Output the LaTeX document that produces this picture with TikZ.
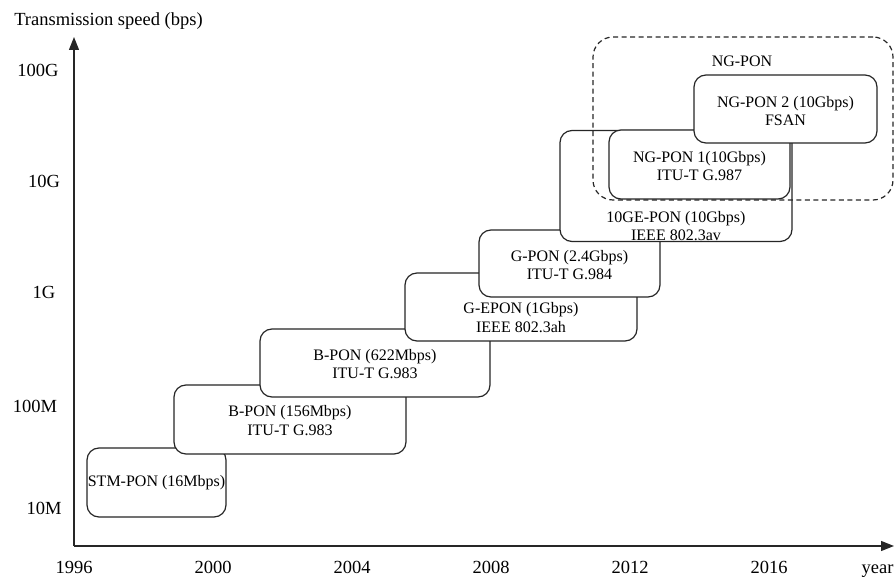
\documentclass[tikz,border=0pt]{standalone}
\usepackage{fontspec}
\setmainfont{Liberation Serif}
\usetikzlibrary{arrows.meta}
\begin{document}
\begin{tikzpicture}[x=1pt,y=-1pt,
  axis/.style={line width=1.4pt, draw=black!85, -{Triangle[length=13pt,width=10pt]}},
  pbox/.style={draw=black!85, line width=1.2pt, fill=white, rounded corners=12pt, inner sep=0pt},
  ptext/.style={font=\fontsize{16}{18.5}\selectfont, align=center, inner sep=0pt},
  ticklabel/.style={font=\fontsize{18.5}{20}\selectfont, inner sep=0pt, anchor=base},
  ngbox/.style={draw=black!85, line width=1.2pt, dash pattern=on 5pt off 3.5pt, rounded corners=20pt, inner sep=0pt}]
\useasboundingbox (0,0) rectangle (895,577);

% axes
\coordinate (o) at (74,546);
\coordinate (ytop) at (74,37);
\coordinate (xend) at (894,546);
\draw[axis] (o) -- (ytop);
\draw[axis] (o) -- (xend);
\node[ticklabel] (ytitle) at (108.5,26) {Transmission speed (bps)};
\node[ticklabel] (xtitle) at (877.5,573) {year};

% speed labels
\node[ticklabel] (s100G) at (38,77) {100G};
\node[ticklabel] (s10G) at (44,188) {10G};
\node[ticklabel] (s1G) at (44,299) {1G};
\node[ticklabel] (s100M) at (35,413) {100M};
\node[ticklabel] (s10M) at (44,514) {10M};

% year labels
\node[ticklabel] (y1996) at (74,573) {1996};
\node[ticklabel] (y2000) at (213,573) {2000};
\node[ticklabel] (y2004) at (352,573) {2004};
\node[ticklabel] (y2008) at (491,573) {2008};
\node[ticklabel] (y2012) at (630,573) {2012};
\node[ticklabel] (y2016) at (769,573) {2016};

% PON generations, later ones drawn on top
\node[pbox, minimum width=139pt, minimum height=69pt] (stm) at (156.5,482.5) {};
\node[ptext] at (156.5,483) {STM-PON (16Mbps)};

\node[pbox, minimum width=232pt, minimum height=69pt] (bpon1) at (290,419.5) {};
\node[ptext] at (290,420.5) {B-PON (156Mbps)\\ITU-T G.983};

\node[pbox, minimum width=230pt, minimum height=68pt] (bpon2) at (375,363) {};
\node[ptext] at (375,364) {B-PON (622Mbps)\\ITU-T G.983};

\node[pbox, minimum width=232pt, minimum height=68pt] (gepon) at (521,307) {};
\node[ptext] at (521,317.5) {G-EPON (1Gbps)\\IEEE 802.3ah};

\node[pbox, minimum width=181pt, minimum height=67pt] (gpon) at (569.5,263.5) {};
\node[ptext] at (569.5,265) {G-PON (2.4Gbps)\\ITU-T G.984};

\node[pbox, minimum width=232pt, minimum height=111pt] (tenge) at (676,186) {};
\node[ptext] at (676,226) {10GE-PON (10Gbps)\\IEEE 802.3av};

\node[pbox, minimum width=181pt, minimum height=69pt] (ngpon1) at (699.5,164.5) {};
\node[ptext] at (699.5,166) {NG-PON 1(10Gbps)\\ITU-T G.987};

\node[pbox, minimum width=183pt, minimum height=68pt] (ngpon2) at (785.5,109) {};
\node[ptext] at (785.5,111) {NG-PON 2 (10Gbps)\\FSAN};

% next-generation group
\node[ngbox, minimum width=300pt, minimum height=163pt] (ng) at (743,118.5) {};
\node[ptext] (nglabel) at (742,61) {NG-PON};
\end{tikzpicture}
\end{document}
